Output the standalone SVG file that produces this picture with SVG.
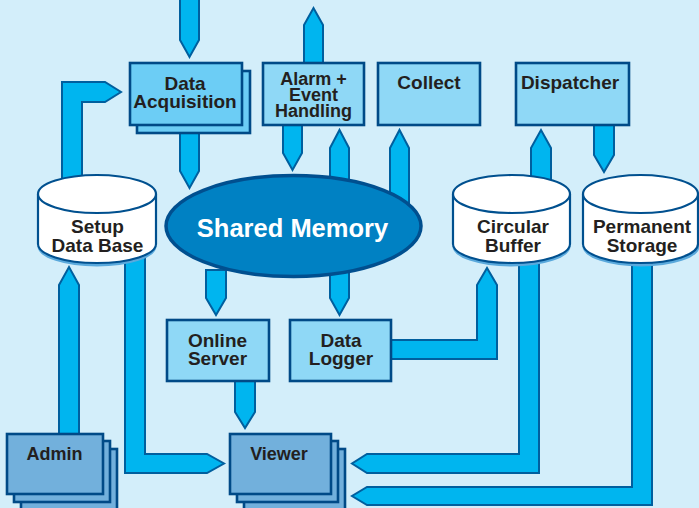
<svg xmlns="http://www.w3.org/2000/svg" width="699" height="508" viewBox="0 0 699 508">
<style>
.arr{fill:#00b5ef;stroke:#005f9e;stroke-width:2;stroke-linejoin:miter}
.box{fill:#8fd8f6;stroke:#004a87;stroke-width:2.6}
.acq{fill:#6ccdf5;stroke:#004a87;stroke-width:2.6}
.dark{fill:#72b0dc;stroke:#004a87;stroke-width:2.6}
.cyl{fill:#ffffff;stroke:#00508f;stroke-width:2.2}
.t{font-family:"Liberation Sans",Arial,sans-serif;font-weight:bold;font-size:19px;fill:#231f20;text-anchor:middle}
.s{font-size:18px}
</style>
<rect x="0" y="0" width="699" height="508" fill="#d3eefa"/>
<g id="connectors">
<polygon class="arr" points="180,-5 199,-5 199,40 189.5,57 180,40"/>
<polygon class="arr" points="180,126 199,126 199,171 189.5,188 180,171"/>
<polygon class="arr" points="62,190 62,82 105,82 121,92 105,102 82,102 82,190"/>
<polygon class="arr" points="304,64 304,25 313.5,8 323,25 323,64"/>
<polygon class="arr" points="283,124 302,124 302,153 292.5,170 283,153"/>
<polygon class="arr" points="330,148 339.5,130 349,148 349,298 339.5,315 330,298"/>
<polygon class="arr" points="390,220 390,148 399.5,130 409,148 409,220"/>
<polygon class="arr" points="206,270 226,270 226,298 216,315 206,298"/>
<polygon class="arr" points="235,380 255,380 255,412 245,428 235,412"/>
<polygon class="arr" points="59,435 59,285 69,267 79,285 79,435"/>
<polygon class="arr" points="125,250 125,473 207,473 224,463.5 207,454 145,454 145,250"/>
<polygon class="arr" points="390,340 477,340 477,285 487,268 497,285 497,359 390,359"/>
<polygon class="arr" points="531,190 531,148 541,130 551,148 551,190"/>
<polygon class="arr" points="594,124 614,124 614,155 604,172 594,155"/>
<polygon class="arr" points="519,250 539,250 539,473 367,473 352,463.5 367,454 519,454"/>
<polygon class="arr" points="632,250 652,250 652,505 367,505 352,496 367,487 632,487"/>
</g>
<g id="data-acquisition">
<rect class="acq" x="137" y="71" width="113" height="62"/>
<rect class="acq" x="130" y="63" width="112" height="62"/>
<text class="t" x="185" y="90">Data</text>
<text class="t" x="185" y="108">Acquisition</text>
</g>
<g id="alarm">
<rect class="box" x="263" y="63" width="101" height="62"/>
<text class="t s" x="313.5" y="85">Alarm +</text>
<text class="t s" x="313.5" y="101">Event</text>
<text class="t s" x="313.5" y="117">Handling</text>
</g>
<g id="collect">
<rect class="box" x="378" y="63" width="102" height="62"/>
<text class="t" x="429" y="89">Collect</text>
</g>
<g id="dispatcher">
<rect class="box" x="516" y="63" width="113" height="62"/>
<text class="t" x="570" y="89">Dispatcher</text>
</g>
<g id="setup-db">
<path d="M39,246 A58,19 0 0 0 155,246" fill="none" stroke="#5aa9dc" stroke-width="3"/>
<path class="cyl" d="M38,194 V244 A59,19 0 0 0 156,244 V194"/>
<ellipse class="cyl" cx="97" cy="194" rx="59" ry="19"/>
<text class="t" x="97.5" y="233">Setup</text>
<text class="t" x="97.5" y="252">Data Base</text>
</g>
<g id="circular-buffer">
<path d="M454,246 A57.5,19 0 0 0 569,246" fill="none" stroke="#5aa9dc" stroke-width="3"/>
<path class="cyl" d="M453,194 V244 A58.5,19 0 0 0 570,244 V194"/>
<ellipse class="cyl" cx="511.5" cy="194" rx="58.5" ry="19"/>
<text class="t" x="513" y="233">Circular</text>
<text class="t" x="513" y="252">Buffer</text>
</g>
<g id="permanent-storage">
<path d="M584,246 A57,19 0 0 0 698,246" fill="none" stroke="#5aa9dc" stroke-width="3"/>
<path class="cyl" d="M583,194 V244 A57.5,19 0 0 0 698,244 V194"/>
<ellipse class="cyl" cx="640.5" cy="194" rx="57.5" ry="19"/>
<text class="t" x="642" y="233">Permanent</text>
<text class="t" x="642" y="252">Storage</text>
</g>
<g id="shared-memory">
<ellipse cx="293.5" cy="226" rx="127.5" ry="50.5" fill="#0081c3" stroke="#004f8f" stroke-width="3.5"/>
<text class="t" x="292.5" y="237" style="font-size:25.5px;fill:#ffffff">Shared Memory</text>
</g>
<g id="online-server">
<rect class="box" x="167" y="320" width="102" height="61"/>
<text class="t" x="217.5" y="347">Online</text>
<text class="t" x="217.5" y="365">Server</text>
</g>
<g id="data-logger">
<rect class="box" x="290" y="320" width="101" height="61"/>
<text class="t" x="341" y="347">Data</text>
<text class="t" x="341" y="365">Logger</text>
</g>
<g id="admin">
<rect class="dark" x="21" y="449" width="96" height="70"/>
<rect class="dark" x="14" y="441" width="96" height="61"/>
<rect class="dark" x="7" y="434" width="96" height="60"/>
<text class="t s" x="54.5" y="460">Admin</text>
</g>
<g id="viewer">
<rect class="dark" x="244" y="449" width="101" height="70"/>
<rect class="dark" x="237" y="441" width="101" height="61"/>
<rect class="dark" x="230" y="434" width="101" height="60"/>
<text class="t s" x="279" y="460">Viewer</text>
</g>
</svg>
